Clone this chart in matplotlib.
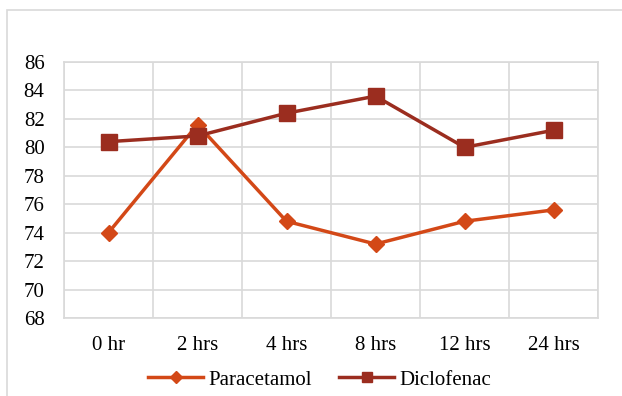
import matplotlib
matplotlib.use("Agg")
import matplotlib.pyplot as plt
from matplotlib.patches import Rectangle

categories = ["0 hr", "2 hrs", "4 hrs", "8 hrs", "12 hrs", "24 hrs"]
paracetamol = [74.0, 81.6, 74.8, 73.2, 74.8, 75.6]
diclofenac = [80.4, 80.8, 82.4, 83.6, 80.0, 81.2]
yticks = [68, 70, 72, 74, 76, 78, 80, 82, 84, 86]

plt.rcParams['font.family'] = ['Liberation Serif', 'DejaVu Serif']

W, H = 622, 396
fig = plt.figure(figsize=(W/100, H/100), dpi=100)
ax = fig.add_axes([64/W, 1-318/H, (598-64)/W, (318-62)/H])

fig.patches.append(Rectangle((7/W, -0.05), 1.1, 1.05 - 10/H, transform=fig.transFigure,
                             fill=False, edgecolor='#D9D9D9', linewidth=1.2))

x = list(range(len(categories)))
ax.plot(x, paracetamol, color='#D34817', lw=2.5, marker='D', ms=8.5, label='Paracetamol', zorder=3)
ax.plot(x, diclofenac, color='#9B2D1F', lw=2.5, marker='s', ms=11, label='Diclofenac', zorder=3)

ax.set_xlim(-0.5, len(categories)-0.5)
ax.set_ylim(68, 86)
ax.set_yticks(yticks)
ax.set_xticks(x)
ax.set_xticklabels(categories)
ax.set_xticks([i + 0.5 for i in range(-1, len(categories))], minor=True)
ax.grid(True, which='major', axis='y', color='#D9D9D9', lw=1.2)
ax.grid(True, which='minor', axis='x', color='#D9D9D9', lw=1.2)
ax.set_axisbelow(True)
for s in ax.spines.values():
    s.set_color('#D9D9D9')
    s.set_linewidth(1.2)
ax.tick_params(axis='both', which='both', length=0, labelsize=15, colors='black')
ax.tick_params(axis='x', pad=13)
ax.tick_params(axis='y', pad=14)

leg = fig.legend(loc='center', bbox_to_anchor=(0.5 + 9/W, 1-380/H), ncol=2, frameon=False,
                 fontsize=15, handlelength=2.6, columnspacing=1.3, handletextpad=0.3,
                 markerscale=0.7)

fig.savefig('out.png', dpi=100)
